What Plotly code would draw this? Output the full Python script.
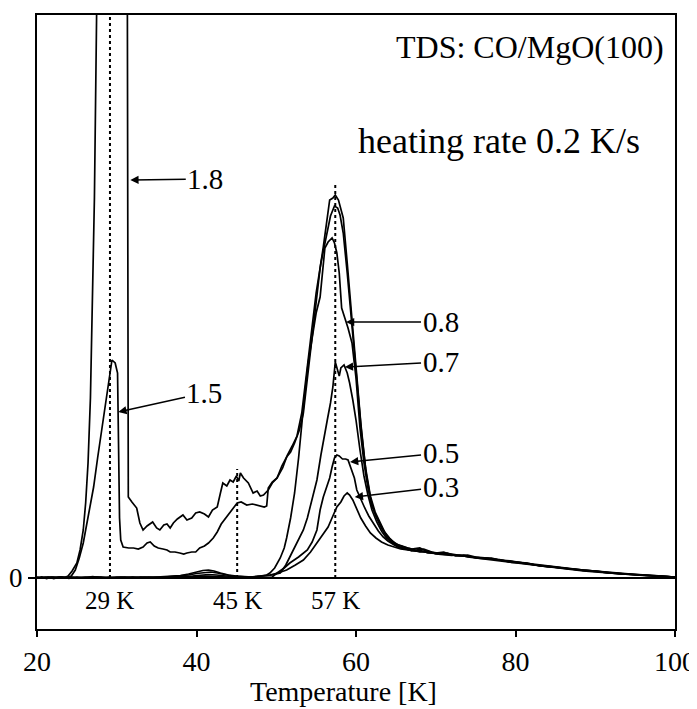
import plotly.graph_objects as go

# ---------------- data ----------------
coverages = ["1.8", "1.5", "0.8", "0.7", "0.5", "0.3"]

T_18 = [20.0, 20.6, 21.2, 21.8, 22.4, 23.0, 23.5, 23.9, 24.4, 25.0, 25.4, 25.8, 26.1, 26.4, 26.7, 26.9,
        27.2, 27.5, 27.8, 31.3, 31.4, 31.45, 31.9, 32.5, 32.9, 33.3, 33.8, 34.5, 35.0, 35.4, 35.9, 36.3,
        36.7, 37.1, 37.6, 38.3, 38.8, 39.4, 39.9, 40.4, 41.0, 41.5, 42.0, 42.6, 43.0, 43.3, 43.8, 44.2,
        44.6, 45.0, 45.3, 45.5, 45.9, 46.5, 47.1, 47.6, 48.0, 48.4, 49.0, 49.5, 50.1, 50.7, 51.3, 51.8,
        52.3, 52.9, 53.4, 53.9, 54.5, 55.1, 55.5, 55.9, 56.3, 56.7, 57.1, 57.4, 57.8, 58.1, 58.4, 58.9,
        59.5, 60.1, 60.6, 61.2, 61.8, 62.4, 63.0, 63.6, 64.2, 65.0, 65.8, 66.5, 67.5, 68.5, 69.5, 70.5,
        71.5, 72.5, 73.5, 74.5, 75.5, 77.0, 78.5, 80.0, 81.5, 83.0, 84.5, 86.0, 87.5, 89.0, 90.5, 92.0,
        93.5, 95.0, 96.5, 98.0, 100.0]
I_18 = [0.0, 0.1, -0.05, 0.08, 0.0, 0.1, 0.05, 0.2, 0.7, 1.5, 2.8, 4.8, 7.5, 11.5, 18.0, 24.8,
        38.0, 58.0, 70.0, 70.0, 30.0, 8.1, 7.6, 7.0, 5.5, 4.8, 5.2, 5.6, 5.0, 4.8, 5.3, 5.4,
        5.0, 5.5, 5.9, 6.3, 5.8, 6.0, 6.5, 6.6, 6.4, 6.1, 6.8, 7.1, 8.5, 9.5, 9.2, 9.8,
        9.6, 10.2, 9.7, 10.5, 10.0, 9.5, 8.5, 8.7, 8.2, 8.3, 8.8, 9.5, 10.0, 11.2, 12.1, 12.6,
        13.5, 14.8, 16.5, 20.0, 24.5, 28.8, 31.0, 33.1, 35.5, 37.8, 38.0, 38.3, 37.8, 37.0, 36.0, 31.5,
        25.8, 20.5, 15.5, 11.0, 8.2, 6.6, 5.6, 4.6, 4.0, 3.4, 3.2, 3.0, 2.8, 2.9, 2.6, 2.4,
        2.5, 2.2, 2.3, 2.1, 2.0, 2.0, 1.7, 1.6, 1.5, 1.2, 1.15, 1.0, 0.9, 0.75, 0.65, 0.5,
        0.45, 0.35, 0.3, 0.2, 0.1]

T_15 = [20.0, 20.7, 21.4, 22.1, 22.8, 23.5, 24.0, 24.3, 24.8, 25.3, 25.8, 26.4, 27.1, 27.6, 28.1, 28.5,
        28.9, 29.2, 29.4, 29.8, 30.1, 30.2, 30.35, 30.5, 30.8, 31.5, 32.1, 32.7, 33.3, 33.8, 34.2, 34.7,
        35.2, 35.8, 36.3, 36.7, 37.3, 37.9, 38.4, 38.8, 39.4, 39.9, 40.4, 41.0, 41.5, 42.1, 42.6, 43.1,
        43.7, 44.2, 44.7, 45.1, 45.6, 46.3, 47.0, 47.8, 48.5, 48.8, 49.0, 49.5, 50.1, 50.8, 51.4, 52.0,
        52.6, 53.2, 53.8, 54.4, 55.0, 55.6, 56.2, 56.8, 57.3, 57.7, 58.0, 58.4, 58.9, 59.5, 60.1, 60.7,
        61.3, 61.9, 62.5, 63.1, 63.8, 64.5, 65.3, 66.0, 67.0, 68.0, 69.0, 70.0, 71.0, 72.0, 73.0, 74.0,
        75.0, 76.5, 78.0, 79.5, 81.0, 82.5, 84.0, 85.5, 87.0, 88.5, 90.0, 91.5, 93.0, 94.5, 96.0, 97.5,
        99.0, 100.0]
I_15 = [0.05, 0.0, 0.1, -0.05, 0.08, 0.0, 0.1, 0.2, 0.8, 2.0, 3.5, 6.0, 9.1, 12.0, 14.8, 17.2,
        19.5, 21.2, 21.8, 21.5, 20.5, 14.8, 6.0, 3.8, 3.1, 3.0, 3.0, 2.9, 3.1, 3.5, 3.6, 3.2,
        3.0, 2.9, 2.8, 2.6, 2.6, 2.5, 2.4, 2.5, 2.6, 2.6, 3.0, 3.2, 3.5, 4.0, 4.6, 5.4,
        6.0, 6.5, 7.0, 7.5, 7.6, 7.3, 7.4, 7.2, 7.1, 7.2, 9.0, 9.6, 10.0, 11.0, 12.3, 13.2,
        14.2, 16.5, 20.5, 25.0, 28.5, 31.5, 34.0, 36.2, 37.2, 37.0, 36.3, 34.5, 30.5, 25.0, 20.0, 14.5,
        10.3, 7.6, 6.2, 5.2, 4.3, 3.7, 3.3, 3.1, 2.9, 3.0, 2.6, 2.5, 2.6, 2.3, 2.25, 2.3,
        2.1, 2.0, 1.8, 1.7, 1.5, 1.3, 1.2, 1.0, 0.9, 0.8, 0.65, 0.6, 0.45, 0.4, 0.3, 0.25,
        0.15, 0.1]

T_08 = [20.0, 21.0, 22.0, 23.0, 24.0, 25.0, 26.0, 27.0, 28.0, 29.0, 30.0, 31.0, 32.0, 33.0, 34.0, 35.0,
        36.0, 37.0, 38.0, 39.0, 40.0, 40.8, 41.5, 42.2, 43.0, 44.0, 45.0, 46.0, 47.0, 48.0, 48.8, 49.2,
        49.8, 50.5, 51.0, 51.3, 51.8, 52.3, 52.8, 53.4, 54.0, 54.5, 55.0, 55.5, 55.8, 56.1, 56.5, 57.0,
        57.3, 57.6, 57.9, 58.2, 58.6, 59.0, 59.5, 60.0, 60.5, 61.0, 61.5, 62.0, 62.6, 63.2, 63.8, 64.5,
        65.2, 66.0, 67.0, 68.0, 69.0, 70.0, 71.0, 72.0, 73.0, 74.0, 75.0, 76.5, 78.0, 79.5, 81.0, 82.5,
        84.0, 85.5, 87.0, 88.5, 90.0, 91.5, 93.0, 94.5, 96.0, 97.5, 99.0, 100.0]
I_08 = [0.0, 0.1, 0.0, 0.1, -0.05, 0.1, 0.05, 0.15, 0.0, 0.1, 0.05, 0.1, 0.0, 0.1, 0.05, 0.1,
        0.1, 0.2, 0.25, 0.4, 0.6, 0.75, 0.8, 0.7, 0.5, 0.3, 0.2, 0.15, 0.1, 0.2, 0.3, 0.5,
        1.0, 2.0, 3.0, 4.0, 6.0, 8.5, 12.0, 17.0, 21.5, 24.0, 26.5, 28.1, 30.5, 33.0, 33.6, 34.0,
        33.5, 32.5, 30.5, 27.0, 26.0, 25.0, 23.5, 20.0, 15.0, 11.5, 9.0, 7.2, 6.0, 5.0, 4.2, 3.6,
        3.2, 3.0, 2.7, 2.8, 2.5, 2.45, 2.5, 2.3, 2.2, 2.2, 2.0, 1.9, 1.85, 1.55, 1.5, 1.3,
        1.1, 1.05, 0.9, 0.75, 0.7, 0.5, 0.45, 0.35, 0.3, 0.2, 0.15, 0.1]

T_07 = [20.0, 21.0, 22.0, 23.0, 24.0, 25.0, 26.0, 27.0, 28.0, 29.0, 30.0, 31.0, 32.0, 33.0, 34.0, 35.0,
        36.0, 37.0, 38.0, 39.0, 40.0, 41.0, 41.8, 42.6, 43.5, 44.5, 45.5, 46.5, 47.5, 48.5, 49.5, 50.5,
        51.2, 51.7, 52.3, 52.8, 53.4, 53.9, 54.5, 55.1, 55.6, 56.0, 56.4, 56.8, 57.1, 57.4, 57.7, 57.9,
        58.1, 58.5, 58.9, 59.2, 59.6, 60.0, 60.5, 61.0, 61.5, 62.0, 62.6, 63.2, 63.8, 64.5, 65.2, 66.0,
        67.0, 68.0, 69.0, 70.0, 71.0, 72.0, 73.0, 74.0, 75.0, 76.5, 78.0, 79.5, 81.0, 82.5, 84.0, 85.5,
        87.0, 88.5, 90.0, 91.5, 93.0, 94.5, 96.0, 97.5, 99.0, 100.0]
I_07 = [0.1, 0.0, 0.1, 0.05, 0.1, 0.0, 0.1, 0.05, 0.1, 0.0, 0.1, 0.05, 0.1, 0.0, 0.1, 0.05,
        0.1, 0.15, 0.2, 0.3, 0.45, 0.55, 0.6, 0.5, 0.35, 0.2, 0.15, 0.1, 0.15, 0.2, 0.3, 0.5,
        1.3, 2.1, 3.0, 3.9, 4.8, 6.0, 7.8, 9.8, 12.3, 14.2, 15.8, 17.5, 19.1, 21.6, 20.8, 20.2,
        21.0, 21.3, 20.5, 19.5, 17.8, 15.8, 12.8, 10.2, 8.3, 6.8, 5.6, 4.7, 4.0, 3.5, 3.1, 2.9,
        2.8, 2.6, 2.7, 2.4, 2.35, 2.25, 2.3, 2.1, 2.0, 1.85, 1.7, 1.6, 1.4, 1.25, 1.1, 0.95,
        0.85, 0.7, 0.6, 0.5, 0.4, 0.35, 0.25, 0.2, 0.1, 0.1]

T_05 = [20.0, 21.5, 23.0, 24.5, 26.0, 27.5, 29.0, 30.5, 32.0, 33.5, 35.0, 36.5, 38.0, 39.5, 40.5, 41.5,
        42.5, 43.5, 45.0, 46.5, 48.0, 49.5, 50.1, 51.0, 51.7, 52.8, 53.9, 54.5, 55.1, 55.5, 55.9, 56.3,
        56.7, 57.0, 57.3, 57.6, 57.9, 58.3, 58.7, 59.0, 59.4, 59.8, 60.1, 60.6, 61.1, 61.6, 62.2, 62.8,
        63.4, 64.0, 64.8, 65.5, 66.5, 67.5, 69.0, 70.5, 72.0, 73.5, 75.0, 76.5, 78.0, 79.5, 81.0, 82.5,
        84.0, 85.5, 87.0, 88.5, 90.0, 91.5, 93.0, 94.5, 96.0, 97.5, 100.0]
I_05 = [0.05, 0.0, 0.1, 0.0, 0.05, 0.1, 0.0, 0.1, 0.05, 0.1, 0.0, 0.1, 0.15, 0.2, 0.3, 0.35,
        0.3, 0.2, 0.1, 0.05, 0.1, 0.1, 0.5, 1.0, 1.5, 2.1, 2.8, 3.6, 4.8, 6.8, 8.1, 9.0,
        10.0, 11.1, 12.0, 12.3, 12.2, 11.9, 11.9, 11.8, 11.0, 10.0, 8.8, 7.8, 7.0, 6.2, 5.4, 4.7,
        4.1, 3.7, 3.3, 3.1, 2.9, 2.7, 2.6, 2.5, 2.4, 2.2, 2.1, 1.95, 1.8, 1.6, 1.45, 1.3,
        1.15, 1.0, 0.85, 0.75, 0.65, 0.5, 0.4, 0.35, 0.25, 0.2, 0.05]

T_03 = [20.0, 21.5, 23.0, 24.5, 26.0, 27.5, 29.0, 30.5, 32.0, 33.5, 35.0, 36.5, 38.0, 39.5, 41.0, 42.5,
        44.0, 45.5, 47.0, 48.5, 49.2, 50.2, 51.3, 52.4, 53.4, 54.3, 55.1, 55.8, 56.5, 57.1, 57.6, 58.1,
        58.5, 58.9, 59.2, 59.6, 60.1, 60.6, 61.2, 61.8, 62.5, 63.2, 64.0, 64.8, 65.6, 66.5, 67.5, 69.0,
        70.5, 72.0, 73.5, 75.0, 76.5, 78.0, 79.5, 81.0, 82.5, 84.0, 85.5, 87.0, 88.5, 90.0, 91.5, 93.0,
        94.5, 96.0, 97.5, 100.0]
I_03 = [0.0, 0.1, 0.05, 0.1, 0.0, 0.1, 0.05, 0.0, 0.1, 0.05, 0.1, 0.0, 0.1, 0.15, 0.2, 0.15,
        0.1, 0.05, 0.1, 0.2, 0.3, 0.5, 0.8, 1.3, 1.8, 2.6, 3.5, 4.3, 5.1, 6.2, 7.1, 7.6,
        8.2, 8.5, 8.3, 7.8, 6.8, 6.0, 5.2, 4.5, 4.0, 3.6, 3.3, 3.1, 2.9, 2.8, 2.7, 2.5,
        2.4, 2.3, 2.2, 2.1, 1.95, 1.8, 1.65, 1.5, 1.35, 1.2, 1.05, 0.9, 0.8, 0.7, 0.55, 0.45,
        0.35, 0.3, 0.2, 0.1]

curves_T = [T_18, T_15, T_08, T_07, T_05, T_03]
curves_I = [I_18, I_15, I_08, I_07, I_05, I_03]

# peak-temperature markers (dotted lines) and their labels
peak_T = [29.15, 45.1, 57.4]
peak_top = [56.3, 10.9, 39.5]
peak_labels = ["29 K", "45 K", "57 K"]

# coverage labels: arrow tip (T, I) and label position (T, I)
tip_T = [31.7, 30.2, 58.75, 58.6, 59.25, 59.85]
tip_I = [39.8, 16.6, 25.6, 21.1, 11.6, 8.1]
lab_T = [41.1, 41.0, 70.6, 70.6, 70.6, 70.6]
lab_I = [39.9, 18.5, 25.6, 21.6, 12.5, 9.1]

x_ticks = [20, 40, 60, 80, 100]

# ---------------- figure ----------------
FONT = "Liberation Serif"
fig = go.Figure()

for T, I, c in zip(curves_T, curves_I, coverages):
    fig.add_trace(go.Scatter(x=T, y=I, mode="lines", name=c,
                             line=dict(color="black", width=1.7), showlegend=False))

for t, top in zip(peak_T, peak_top):
    fig.add_trace(go.Scatter(x=[t, t], y=[0, top], mode="lines", showlegend=False,
                             line=dict(color="black", width=2, dash="dot")))

annotations = []
for t, lab in zip(peak_T, peak_labels):
    annotations.append(dict(x=t, y=-2.2, xref="x", yref="y", text=lab, showarrow=False,
                            xanchor="center", yanchor="middle",
                            font=dict(family=FONT, size=25, color="black")))

for c, tx, ty, lx, ly in zip(coverages, tip_T, tip_I, lab_T, lab_I):
    annotations.append(dict(x=tx, y=ty, xref="x", yref="y", ax=lx, ay=ly, axref="x", ayref="y",
                            text=c, showarrow=True, arrowhead=2, arrowsize=1.1, arrowwidth=1.5,
                            arrowcolor="black", standoff=0,
                            font=dict(family=FONT, size=29, color="black")))

annotations.append(dict(x=0.773, y=0.948, xref="paper", yref="paper", text="TDS: CO/MgO(100)",
                        xanchor="center", yanchor="middle", showarrow=False,
                        font=dict(family=FONT, size=32, color="black")))
annotations.append(dict(x=0.724, y=0.795, xref="paper", yref="paper", text="heating rate 0.2 K/s",
                        xanchor="center", yanchor="middle", showarrow=False,
                        font=dict(family=FONT, size=36, color="black")))
annotations.append(dict(x=0.481, y=-0.1026, xref="paper", yref="paper", text="Temperature [K]",
                        xanchor="center", yanchor="middle", showarrow=False,
                        font=dict(family=FONT, size=28, color="black")))

# page body has an 8 px margin, so the figure is offset by (8, 8) in the window
fig.update_layout(
    width=689, height=701,
    margin=dict(l=29, r=22, t=7, b=80),
    font=dict(family=FONT, size=28, color="black"),
    paper_bgcolor="white", plot_bgcolor="white",
    annotations=annotations,
    xaxis=dict(range=[20, 100], tickvals=x_ticks, ticks="outside", ticklen=6, tickwidth=2,
               tickcolor="black", showline=True, linewidth=2, linecolor="black", mirror=True,
               showgrid=False, zeroline=False, automargin=False,
               tickfont=dict(family=FONT, size=28, color="black")),
    yaxis=dict(range=[-5.1, 56.3], tickvals=[0], ticktext=["0"], ticks="outside", ticklen=7,
               tickwidth=2, tickcolor="black", showline=True, linewidth=2, linecolor="black",
               mirror=True, showgrid=False, zeroline=True, zerolinecolor="black", zerolinewidth=2,
               automargin=False,
               tickfont=dict(family=FONT, size=27, color="black")),
)

fig.write_html("out.html")
